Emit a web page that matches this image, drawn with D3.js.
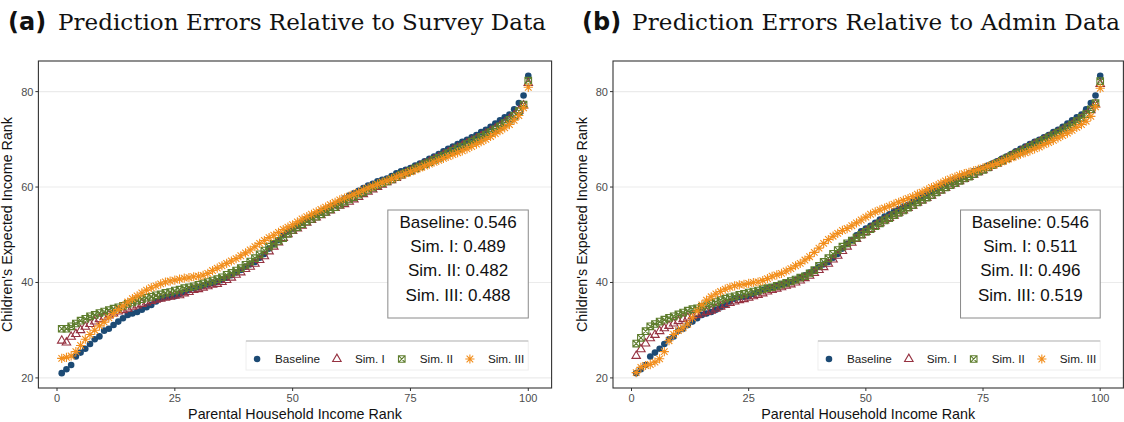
<!DOCTYPE html>
<html>
<head>
<meta charset="utf-8">
<script src="https://d3js.org/d3.v7.min.js"></script>
<style>
  body { margin: 0; background: #fff; }
  text { font-family: "Liberation Sans", Arial, sans-serif; }
</style>
</head>
<body>
<div class="visual"></div>
<script>

// parental income percentile (x) for every point
let ranks = d3.range(1, 101);

let seriesNames = ['Baseline', 'Sim. I', 'Sim. II', 'Sim. III'];
let surveySlopes = ['0.546', '0.489', '0.482', '0.488'];
let adminSlopes = ['0.546', '0.511', '0.496', '0.519'];
let xTicks = [0, 25, 50, 75, 100];
let yTicks = [20, 40, 60, 80];

// baseline is the same in both panels
let baseline = [
  21.0, 21.8, 22.7, 24.5, 25.3, 26.1, 27.1, 28.1, 28.7, 29.9,
  30.3, 31.1, 31.8, 32.5, 33.2, 33.5, 33.8, 34.3, 34.8, 35.3,
  36.0, 36.6, 36.9, 37.0, 37.1, 37.6, 38.0, 38.4, 38.8, 39.0,
  39.3, 39.6, 39.9, 40.1, 40.5, 41.0, 41.5, 42.1, 42.6, 43.3,
  43.8, 44.3, 45.2, 46.0, 47.1, 48.1, 48.9, 49.9, 50.7, 51.3,
  51.9, 52.5, 53.2, 53.8, 54.3, 54.9, 55.4, 55.9, 56.3, 56.9,
  57.6, 58.2, 58.7, 59.2, 59.8, 60.3, 60.7, 61.2, 61.5, 61.8,
  62.3, 62.9, 63.3, 63.6, 64.0, 64.5, 64.9, 65.4, 65.9, 66.4,
  66.9, 67.5, 68.0, 68.5, 69.0, 69.5, 69.9, 70.4, 70.9, 71.5,
  72.0, 72.6, 73.3, 74.0, 74.6, 75.2, 76.3, 77.6, 79.2, 83.3
];

// (a) survey data
let surveySimI = [
  27.8, 27.4, 28.6, 29.2, 30.0, 30.7, 31.3, 31.8, 32.3, 32.7,
  33.1, 33.5, 33.9, 34.2, 34.5, 34.9, 35.2, 35.5, 35.8, 36.1,
  36.4, 36.6, 36.8, 37.0, 37.2, 37.3, 37.7, 38.0, 38.4, 38.6,
  38.9, 39.2, 39.5, 39.7, 40.1, 40.5, 41.0, 41.6, 42.1, 42.8,
  43.3, 43.9, 44.7, 45.5, 46.5, 47.5, 48.4, 49.3, 50.1, 50.8,
  51.3, 51.9, 52.5, 53.1, 53.6, 54.1, 54.6, 55.1, 55.6, 56.1,
  56.4, 56.9, 57.4, 57.9, 58.5, 59.0, 59.5, 60.0, 60.5, 61.0,
  61.4, 61.9, 62.4, 62.9, 63.3, 63.8, 64.3, 64.8, 65.2, 65.7,
  66.2, 66.7, 67.2, 67.7, 68.2, 68.6, 69.1, 69.6, 70.1, 70.6,
  71.1, 71.7, 72.2, 72.8, 73.5, 74.2, 75.0, 76.0, 77.1, 81.8
];
let surveySimII = [
  30.3, 30.3, 30.8, 31.4, 32.0, 32.4, 32.9, 33.2, 33.6, 33.9,
  34.2, 34.5, 34.8, 35.1, 35.5, 35.8, 36.2, 36.5, 36.8, 37.0,
  37.3, 37.5, 37.8, 38.0, 38.3, 38.5, 38.8, 39.0, 39.2, 39.5,
  39.8, 40.1, 40.4, 40.7, 41.1, 41.6, 42.0, 42.5, 43.0, 43.7,
  44.4, 45.1, 45.9, 46.7, 47.5, 48.1, 48.7, 49.3, 50.2, 51.0,
  51.6, 52.2, 52.8, 53.3, 53.8, 54.3, 54.8, 55.3, 55.8, 56.3,
  56.9, 57.4, 57.9, 58.4, 58.9, 59.4, 59.9, 60.4, 60.8, 61.2,
  61.6, 62.1, 62.6, 63.0, 63.4, 63.9, 64.3, 64.8, 65.2, 65.7,
  66.1, 66.6, 67.1, 67.6, 68.1, 68.5, 69.0, 69.5, 70.0, 70.5,
  71.0, 71.5, 72.1, 72.7, 73.4, 74.1, 74.9, 75.9, 77.3, 82.3
];
let surveySimIII = [
  24.1, 24.3, 24.6, 25.5, 26.8, 28.1, 29.1, 30.0, 30.9, 31.7,
  32.6, 33.5, 34.3, 35.1, 35.9, 36.6, 37.2, 37.8, 38.4, 38.9,
  39.3, 39.7, 40.1, 40.3, 40.5, 40.7, 40.9, 41.0, 41.2, 41.3,
  41.5, 41.9, 42.5, 43.0, 43.5, 44.0, 44.5, 45.0, 45.6, 46.2,
  46.8, 47.5, 48.2, 48.8, 49.4, 49.9, 50.5, 51.1, 51.6, 52.1,
  52.7, 53.3, 53.8, 54.3, 54.8, 55.3, 55.8, 56.3, 56.8, 57.3,
  57.7, 58.1, 58.5, 58.9, 59.4, 59.8, 60.2, 60.6, 61.0, 61.3,
  61.7, 62.1, 62.5, 62.8, 63.2, 63.6, 64.0, 64.4, 64.8, 65.2,
  65.6, 66.0, 66.4, 66.8, 67.2, 67.6, 68.0, 68.5, 69.0, 69.5,
  70.0, 70.6, 71.2, 71.8, 72.4, 73.1, 74.0, 75.0, 76.6, 80.9
];

// (b) admin data
let adminSimI = [
  24.6, 26.0, 27.2, 28.3, 29.0, 29.8, 30.4, 30.9, 31.4, 31.9,
  32.3, 32.6, 32.9, 33.2, 33.5, 33.8, 34.1, 34.5, 34.9, 35.3,
  35.7, 36.0, 36.3, 36.5, 36.8, 37.1, 37.4, 37.7, 38.1, 38.4,
  38.7, 39.0, 39.3, 39.6, 40.0, 40.4, 40.9, 41.4, 42.0, 42.6,
  43.2, 43.9, 44.8, 45.6, 46.6, 47.5, 48.3, 49.1, 49.9, 50.6,
  51.2, 51.8, 52.4, 53.0, 53.5, 54.0, 54.6, 55.1, 55.6, 56.1,
  56.7, 57.2, 57.7, 58.2, 58.8, 59.3, 59.8, 60.3, 60.7, 61.2,
  61.7, 62.1, 62.6, 63.1, 63.5, 64.0, 64.5, 64.9, 65.4, 65.9,
  66.4, 66.9, 67.4, 67.9, 68.4, 68.9, 69.3, 69.8, 70.3, 70.8,
  71.3, 71.8, 72.4, 73.0, 73.6, 74.3, 75.1, 76.1, 77.3, 81.6
];
let adminSimII = [
  27.2, 28.4, 29.8, 30.8, 31.3, 31.8, 32.2, 32.6, 32.9, 33.3,
  33.7, 34.1, 34.4, 34.6, 34.9, 35.2, 35.6, 35.9, 36.3, 36.6,
  36.9, 37.1, 37.4, 37.6, 37.9, 38.1, 38.3, 38.6, 38.8, 39.0,
  39.3, 39.6, 39.9, 40.3, 40.6, 41.0, 41.3, 41.9, 42.6, 43.5,
  44.3, 45.1, 46.0, 46.8, 47.5, 48.2, 48.8, 49.4, 50.0, 50.6,
  51.2, 51.8, 52.4, 53.0, 53.5, 54.1, 54.6, 55.1, 55.7, 56.2,
  56.8, 57.3, 57.8, 58.3, 58.9, 59.4, 59.9, 60.4, 60.8, 61.3,
  61.8, 62.2, 62.7, 63.2, 63.6, 64.1, 64.6, 65.0, 65.5, 66.0,
  66.5, 67.0, 67.4, 67.9, 68.4, 68.9, 69.4, 69.9, 70.4, 70.9,
  71.4, 71.9, 72.5, 73.1, 73.8, 74.5, 75.3, 76.3, 77.6, 82.2
];
let adminSimIII = [
  21.1, 22.2, 22.6, 22.8, 23.3, 24.0, 25.5, 27.8, 29.1, 29.9,
  30.5, 31.3, 32.6, 34.0, 35.3, 36.3, 37.0, 37.6, 38.1, 38.6,
  39.0, 39.3, 39.5, 39.6, 39.8, 40.0, 40.1, 40.4, 40.8, 41.3,
  41.6, 41.9, 42.4, 42.9, 43.5, 44.0, 44.7, 45.4, 46.3, 47.2,
  48.2, 49.0, 49.7, 50.3, 50.9, 51.3, 51.9, 52.5, 53.1, 53.7,
  54.3, 54.8, 55.2, 55.6, 56.0, 56.4, 56.8, 57.2, 57.6, 58.0,
  58.5, 58.9, 59.4, 59.9, 60.3, 60.8, 61.3, 61.7, 62.1, 62.5,
  62.8, 63.1, 63.4, 63.7, 64.0, 64.3, 64.6, 64.9, 65.3, 65.7,
  66.1, 66.5, 66.9, 67.2, 67.6, 68.0, 68.4, 68.9, 69.3, 69.8,
  70.3, 70.8, 71.3, 71.9, 72.5, 73.1, 73.8, 74.8, 76.8, 80.7
];

let colors = ['#1c4a74', '#963241', '#5e7d2d', '#f28e1c'];

let width = 1124, height = 422;
let panelTop = 61, panelBottom = 388;

let svg = d3.select('.visual').append('svg')
  .attr('width', width)
  .attr('height', height);

// ggplot style 5% expansion
function expand(ext) {
  let pad = (ext[1] - ext[0]) * 0.05;
  return [ext[0] - pad, ext[1] + pad];
}

// one marker per series, shapes like ggplot 16 / 2 / 7 / 8
function marker(g, k, cx, cy) {
  if (k == 0) {
    g.append('circle').attr('cx', cx).attr('cy', cy).attr('r', 3.3)
      .attr('fill', colors[0]);
    return;
  }
  let d;
  if (k == 1) {
    d = 'M' + cx + ',' + (cy - 4.9) + 'L' + (cx + 4.25) + ',' + (cy + 2.45)
      + 'L' + (cx - 4.25) + ',' + (cy + 2.45) + 'Z';
  } else if (k == 2) {
    let s = 3.3;
    d = 'M' + (cx - s) + ',' + (cy - s) + 'H' + (cx + s) + 'V' + (cy + s) + 'H' + (cx - s) + 'Z'
      + 'M' + (cx - s) + ',' + (cy - s) + 'L' + (cx + s) + ',' + (cy + s)
      + 'M' + (cx + s) + ',' + (cy - s) + 'L' + (cx - s) + ',' + (cy + s);
  } else {
    let s = 4.6, t = 3.3;
    d = 'M' + (cx - s) + ',' + cy + 'H' + (cx + s)
      + 'M' + cx + ',' + (cy - s) + 'V' + (cy + s)
      + 'M' + (cx - t) + ',' + (cy - t) + 'L' + (cx + t) + ',' + (cy + t)
      + 'M' + (cx + t) + ',' + (cy - t) + 'L' + (cx - t) + ',' + (cy + t);
  }
  g.append('path').attr('d', d).attr('fill', 'none')
    .attr('stroke', colors[k]).attr('stroke-width', 1.1);
}

function drawPanel(opts) {
  let g = svg.append('g');
  let all = [].concat(...opts.series);

  let x = d3.scaleLinear().domain(expand(d3.extent(ranks))).range([opts.left, opts.right]);
  let y = d3.scaleLinear().domain(expand(d3.extent(all))).range([panelBottom, panelTop]);

  // title: bold tag + serif text
  g.append('text').attr('x', opts.titleX).attr('y', 30)
    .style('font-family', '"DejaVu Sans", sans-serif').style('font-weight', 'bold')
    .attr('font-size', 24).attr('fill', '#111').text(opts.tag);
  g.append('text').attr('x', opts.titleX + 50).attr('y', 30)
    .style('font-family', '"DejaVu Serif", serif').attr('font-size', 23)
    .attr('textLength', 488).attr('lengthAdjust', 'spacing')
    .attr('fill', '#111').text(opts.title);

  // grid
  g.selectAll('.grid').data(yTicks).enter().append('line')
    .attr('x1', opts.left).attr('x2', opts.right)
    .attr('y1', d => y(d)).attr('y2', d => y(d))
    .attr('stroke', '#ebebeb').attr('stroke-width', 1.1);

  // points
  opts.series.forEach(function(vals, k) {
    let sg = g.append('g');
    vals.forEach((v, i) => marker(sg, k, x(ranks[i]), y(v)));
  });

  // slope box
  let bx = x(70.2), bw = x(100) - x(70.2);
  g.append('rect').attr('x', bx).attr('y', 210).attr('width', bw).attr('height', 108)
    .attr('fill', '#fff').attr('stroke', '#8a8a8a').attr('stroke-width', 1);
  opts.slopes.forEach(function(s, i) {
    g.append('text').attr('x', bx + bw / 2).attr('y', 227.5 + i * 24.4)
      .attr('text-anchor', 'middle').attr('font-size', 17).attr('fill', '#111')
      .text(seriesNames[i] + ': ' + s);
  });

  // legend
  let lg = g.append('g');
  let lRight = x(100), lTop = 341, lBottom = 370;
  let bg = lg.append('rect').attr('y', lTop).attr('height', lBottom - lTop)
    .attr('fill', '#fff').attr('stroke', '#eeeeee').attr('stroke-width', 1);
  let topLine = lg.append('line').attr('y1', lTop).attr('y2', lTop)
    .attr('stroke', '#b5b5b5').attr('stroke-width', 1);
  let items = lg.append('g');
  let cursor = 0;
  seriesNames.forEach(function(name, k) {
    marker(items, k, cursor, 359);
    let t = items.append('text').attr('x', cursor + 18).attr('y', 363)
      .attr('font-size', 11.7).attr('fill', '#1a1a1a').text(name);
    cursor += 18 + t.node().getComputedTextLength() + 17;
  });
  let itemsW = cursor - 17;
  let shift = lRight - 4 - itemsW;
  items.attr('transform', 'translate(' + shift + ',0)');
  let lLeft = shift - 11;
  bg.attr('x', lLeft).attr('width', lRight - lLeft);
  topLine.attr('x1', lLeft).attr('x2', lRight);

  // axes
  g.selectAll('.xtick').data(xTicks).enter().append('line')
    .attr('x1', d => x(d)).attr('x2', d => x(d))
    .attr('y1', panelBottom).attr('y2', panelBottom + 3)
    .attr('stroke', '#333').attr('stroke-width', 1);
  g.selectAll('.xlab').data(xTicks).enter().append('text')
    .attr('x', d => x(d)).attr('y', 401.5).attr('text-anchor', 'middle')
    .attr('font-size', 11).attr('fill', '#4d4d4d').text(d => d);
  g.selectAll('.ytick').data(yTicks).enter().append('line')
    .attr('x1', opts.left - 3).attr('x2', opts.left)
    .attr('y1', d => y(d)).attr('y2', d => y(d))
    .attr('stroke', '#333').attr('stroke-width', 1);
  g.selectAll('.ylab').data(yTicks).enter().append('text')
    .attr('x', opts.left - 5).attr('y', d => y(d) + 4).attr('text-anchor', 'end')
    .attr('font-size', 11).attr('fill', '#4d4d4d').text(d => d);

  g.append('text').attr('x', (opts.left + opts.right) / 2).attr('y', 418.5)
    .attr('text-anchor', 'middle').attr('font-size', 14.3).attr('fill', '#111')
    .text('Parental Household Income Rank');
  g.append('text')
    .attr('transform', 'translate(' + (opts.left - 26) + ',' + ((panelTop + panelBottom) / 2) + ') rotate(-90)')
    .attr('text-anchor', 'middle').attr('font-size', 14.3).attr('fill', '#111')
    .text("Children's Expected Income Rank");

  // border
  g.append('rect').attr('x', opts.left).attr('y', panelTop)
    .attr('width', opts.right - opts.left).attr('height', panelBottom - panelTop)
    .attr('fill', 'none').attr('stroke', '#333').attr('stroke-width', 1.1);
}

drawPanel({
  left: 38.4, right: 551.6, titleX: 8, tag: '(a)',
  title: 'Prediction Errors Relative to Survey Data',
  series: [baseline, surveySimI, surveySimII, surveySimIII],
  slopes: surveySlopes
});

drawPanel({
  left: 613, right: 1123.4, titleX: 582, tag: '(b)',
  title: 'Prediction Errors Relative to Admin Data',
  series: [baseline, adminSimI, adminSimII, adminSimIII],
  slopes: adminSlopes
});
</script>
</body>
</html>
